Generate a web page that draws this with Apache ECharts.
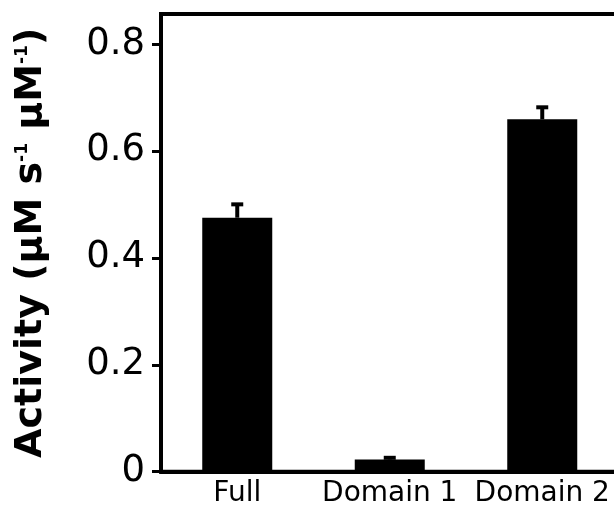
<!DOCTYPE html>
<html>
<head>
<meta charset="utf-8">
<script src="https://cdn.jsdelivr.net/npm/echarts@6/dist/echarts.min.js"></script>
<style>html,body{margin:0;padding:0;background:#fff}#c{width:614px;height:510px}</style>
</head>
<body>
<div id="c"></div>
<script>
const categories = ['Full', 'Domain 1', 'Domain 2'];
const activity = [0.475, 0.023, 0.659];
const errors = [0.025, 0.003, 0.0225];
const yTicks = [0, 0.2, 0.4, 0.6, 0.8];
const yMax = 0.856;

const chart = echarts.init(document.getElementById('c'));
const F = 'DejaVu Sans';
chart.setOption({
  animation: false,
  grid: { left: 161, top: 14, width: 457.5, bottom: 38.3, outerBoundsMode: 'none', containLabel: false, show: true, borderColor: '#000', borderWidth: 4, backgroundColor: 'transparent' },
  xAxis: {
    type: 'category', data: categories,
    axisLine: { lineStyle: { color: '#000', width: 4 } },
    axisTick: { alignWithLabel: true, length: 7, lineStyle: { color: '#000', width: 3 } },
    axisLabel: { color: '#000', fontFamily: F, fontSize: 28, margin: 8, interval: 0, hideOverlap: false }
  },
  yAxis: {
    type: 'value', min: 0, max: yMax, interval: 0.2,
    splitLine: { show: false },
    axisLine: { show: true, lineStyle: { color: '#000', width: 4 } },
    axisTick: { show: true, length: 9, customValues: yTicks, lineStyle: { color: '#000', width: 3 } },
    axisLabel: { color: '#000', fontFamily: F, fontSize: 37, margin: 16, customValues: yTicks },
    name: '{b|Activity (μM s}{s|-1}{b| μM}{s|-1}{b|)}',
    nameLocation: 'middle', nameGap: 111, nameRotate: 90,
    nameTextStyle: {
      rich: {
        b: { fontFamily: F, fontWeight: 'bold', fontSize: 38, color: '#000' },
        s: { fontFamily: F, fontWeight: 'bold', fontSize: 17, color: '#000', verticalAlign: 'top', padding: [2, 0, 0, 0] }
      }
    }
  },
  series: [
    { type: 'bar', data: activity, barWidth: 70, itemStyle: { color: '#000' } },
    {
      type: 'custom',
      data: activity.map((v, i) => [i, v, v + errors[i]]),
      renderItem: function (params, api) {
        const x = api.value(0);
        const p0 = api.coord([x, api.value(1)]);
        const p1 = api.coord([x, api.value(2)]);
        const half = 6;
        return {
          type: 'group',
          children: [
            { type: 'line', shape: { x1: p0[0], y1: p0[1], x2: p1[0], y2: p1[1] }, style: { stroke: '#000', lineWidth: 4 } },
            { type: 'line', shape: { x1: p1[0] - half, y1: p1[1], x2: p1[0] + half, y2: p1[1] }, style: { stroke: '#000', lineWidth: 4 } }
          ]
        };
      },
      z: 3
    }
  ]
});
</script>
</body>
</html>
